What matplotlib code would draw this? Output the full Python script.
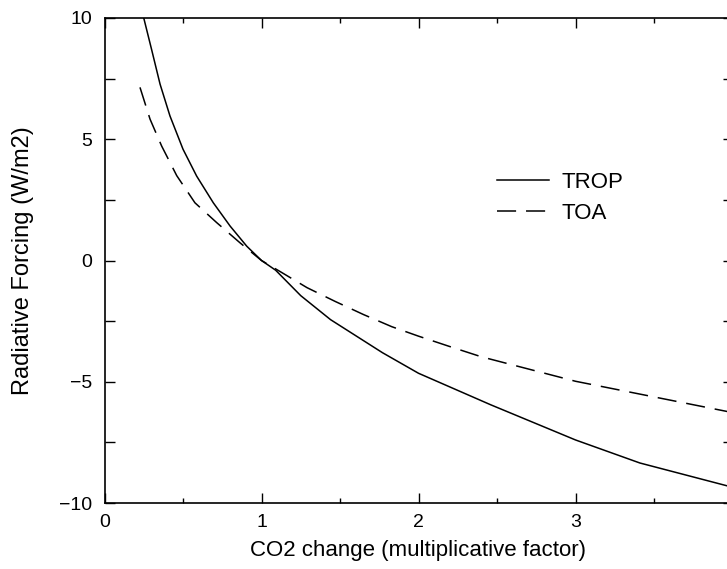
import matplotlib
matplotlib.use("Agg")
import matplotlib.pyplot as plt
from matplotlib.ticker import MultipleLocator

plt.rcParams['font.family'] = ['Liberation Sans', 'DejaVu Sans']

# Data
trop_x = [0.25, 0.30, 0.354, 0.417, 0.50, 0.587, 0.693, 0.80, 0.906, 1.0, 1.09, 1.25, 1.44, 1.77, 2.0, 2.46, 3.0, 3.41, 4.0]
trop_y = [10.0, 8.7, 7.27, 5.96, 4.59, 3.48, 2.38, 1.42, 0.59, 0.0, -0.4, -1.45, -2.44, -3.8, -4.65, -5.95, -7.4, -8.35, -9.35]

toa_x = [0.226, 0.29, 0.364, 0.46, 0.576, 0.715, 0.863, 1.0, 1.13, 1.29, 1.47, 1.65, 1.83, 2.0, 2.2, 2.4, 3.0, 4.0]
toa_y = [7.14, 5.83, 4.72, 3.5, 2.38, 1.56, 0.73, 0.0, -0.5, -1.12, -1.69, -2.23, -2.73, -3.12, -3.55, -3.97, -4.98, -6.27]

labels = ["TROP", "TOA"]

W, H = 727, 569
fig = plt.figure(figsize=(W / 100, H / 100), dpi=100)
left, right, bottom, top = 104.5, 732.5, 503, 18
ax = fig.add_axes([left / W, 1 - bottom / H, (right - left) / W, (bottom - top) / H])

lw = 1.1
ax.plot(trop_x, trop_y, color='black', lw=lw, label=labels[0])
ax.plot(toa_x, toa_y, color='black', lw=lw, linestyle=(0, (12.5, 6.5)), label=labels[1])

ax.set_xlim(0, 4)
ax.set_ylim(-10, 10)
ax.xaxis.set_major_locator(MultipleLocator(1))
ax.xaxis.set_minor_locator(MultipleLocator(0.5))
ax.yaxis.set_major_locator(MultipleLocator(5))
ax.yaxis.set_minor_locator(MultipleLocator(2.5))

ax.tick_params(which='both', direction='in', top=True, right=True, width=1.0, color='black')
ax.tick_params(axis='x', which='major', length=7, pad=8, labelsize=14)
ax.tick_params(axis='x', which='minor', length=3.5)
ax.tick_params(axis='y', which='major', length=7, pad=9, labelsize=14)
ax.tick_params(axis='y', which='minor', length=7)
for s in ax.spines.values():
    s.set_linewidth(1.2)

ax.set_xlabel("CO2 change (multiplicative factor)", fontsize=16)
ax.set_ylabel("Radiative Forcing (W/m2)", fontsize=17)
ax.xaxis.set_label_coords(0.5, -0.076)
ax.yaxis.set_label_coords(-0.113, 0.5)

ax.legend(loc='center left', bbox_to_anchor=(0.625, 0.629), frameon=False,
          fontsize=16, handlelength=2.35, handletextpad=0.55, labelspacing=0.45,
          borderpad=0, borderaxespad=0)

fig.savefig("out.png", dpi=100)
